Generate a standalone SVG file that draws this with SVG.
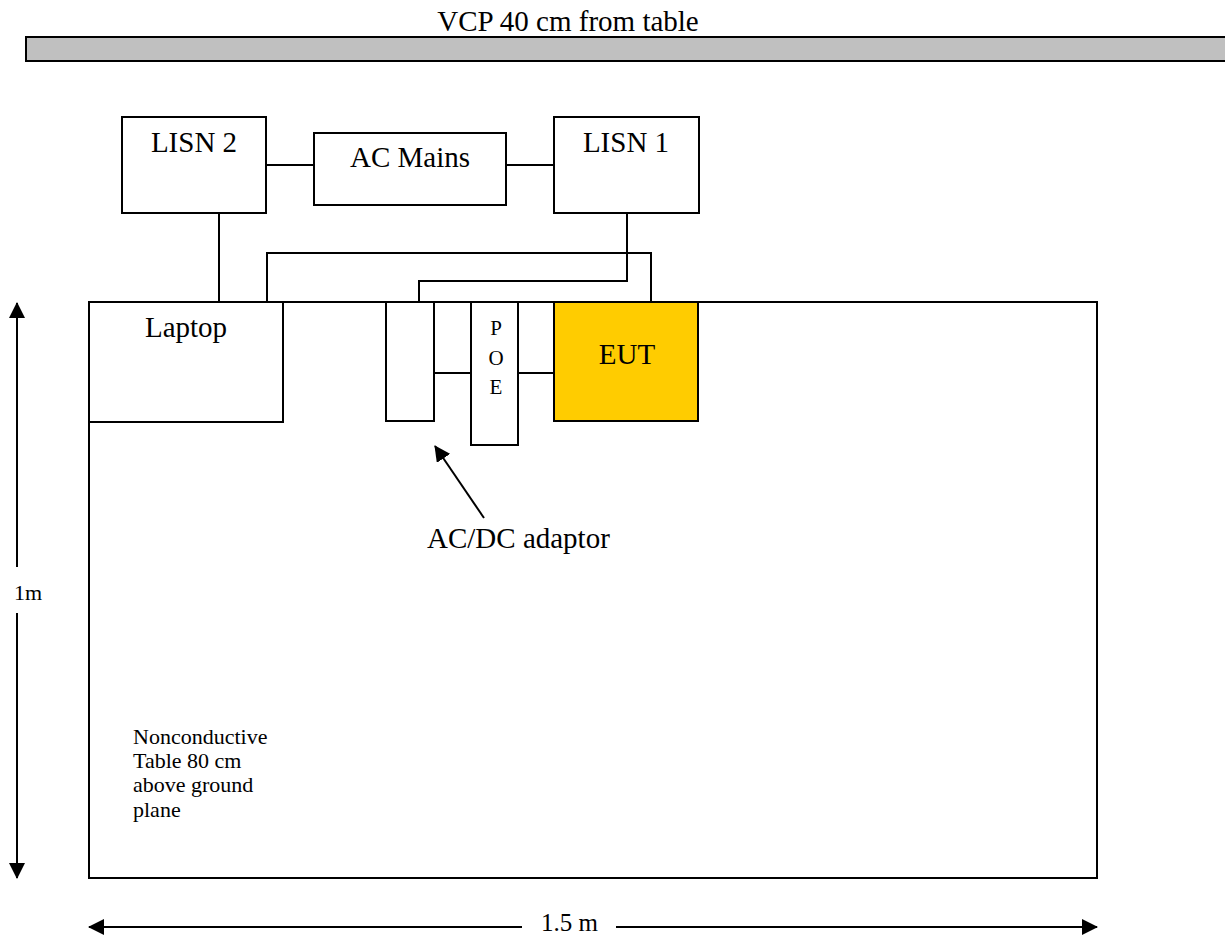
<svg xmlns="http://www.w3.org/2000/svg" width="1225" height="938" viewBox="0 0 1225 938">
<style>
text{font-family:"Liberation Serif","Times New Roman",serif;fill:#000}
.lg{font-size:29px}
.sm{font-size:22px}
.box{fill:#fff;stroke:#000;stroke-width:2}
.ln{fill:none;stroke:#000;stroke-width:2}
</style>
<defs>
<marker id="ah" markerWidth="16" markerHeight="16" refX="15" refY="8" orient="auto" markerUnits="userSpaceOnUse">
<path d="M0,0 L16,8 L0,16 z" fill="#000"/>
</marker>
</defs>
<rect width="1225" height="938" fill="#fff"/>
<g id="vcp">
<text class="lg" x="568" y="31" text-anchor="middle">VCP 40 cm from table</text>
<rect x="26" y="37" width="1210" height="24" fill="#C0C0C0" stroke="#000" stroke-width="2"/>
</g>
<g id="table">
<rect x="89" y="302" width="1008" height="576" class="box"/>
<text class="sm" x="133" y="744">Nonconductive</text>
<text class="sm" x="133" y="768">Table 80 cm</text>
<text class="sm" x="133" y="792">above ground</text>
<text class="sm" x="133" y="817">plane</text>
</g>
<g id="connectors">
<line x1="266" y1="165" x2="314" y2="165" class="ln"/>
<line x1="506" y1="165" x2="554" y2="165" class="ln"/>
<polyline points="219,213 219,302" class="ln"/>
<polyline points="267,302 267,253 651,253 651,302" class="ln"/>
<polyline points="627,213 627,281 419,281 419,302" class="ln"/>
<line x1="434" y1="373" x2="471" y2="373" class="ln"/>
<line x1="518" y1="373" x2="554" y2="373" class="ln"/>
<line x1="484" y1="518" x2="435" y2="446" class="ln" marker-end="url(#ah)"/>
</g>
<g id="lisn2">
<rect x="122" y="117" width="144" height="96" class="box"/>
<text class="lg" x="194" y="152" text-anchor="middle">LISN 2</text>
</g>
<g id="acmains">
<rect x="314" y="133" width="192" height="72" class="box"/>
<text class="lg" x="410" y="167" text-anchor="middle">AC Mains</text>
</g>
<g id="lisn1">
<rect x="554" y="117" width="145" height="96" class="box"/>
<text class="lg" x="626" y="152" text-anchor="middle">LISN 1</text>
</g>
<g id="laptop">
<rect x="89" y="302" width="194" height="120" class="box"/>
<text class="lg" x="186" y="337" text-anchor="middle">Laptop</text>
</g>
<g id="adaptor">
<rect x="386" y="302" width="48" height="119" class="box"/>
</g>
<g id="poe">
<rect x="471" y="302" width="47" height="143" class="box"/>
<text x="496" y="335" text-anchor="middle" font-size="21">P</text>
<text x="496" y="365" text-anchor="middle" font-size="21">O</text>
<text x="496" y="394" text-anchor="middle" font-size="21">E</text>
</g>
<g id="eut">
<rect x="554" y="302" width="144" height="119" fill="#FFCC00" stroke="#000" stroke-width="2"/>
<text class="lg" x="627" y="364" text-anchor="middle">EUT</text>
</g>
<g id="adaptor-label">
<text class="lg" x="427" y="548">AC/DC adaptor</text>
</g>
<g id="dimensions">
<line x1="17" y1="567" x2="17" y2="303" class="ln" marker-end="url(#ah)"/>
<text class="sm" x="14" y="600">1m</text>
<line x1="17" y1="613" x2="17" y2="878" class="ln" marker-end="url(#ah)"/>
<line x1="522" y1="927" x2="89" y2="927" class="ln" marker-end="url(#ah)"/>
<text x="541" y="931" font-size="25">1.5 m</text>
<line x1="616" y1="927" x2="1097" y2="927" class="ln" marker-end="url(#ah)"/>
</g>
</svg>
